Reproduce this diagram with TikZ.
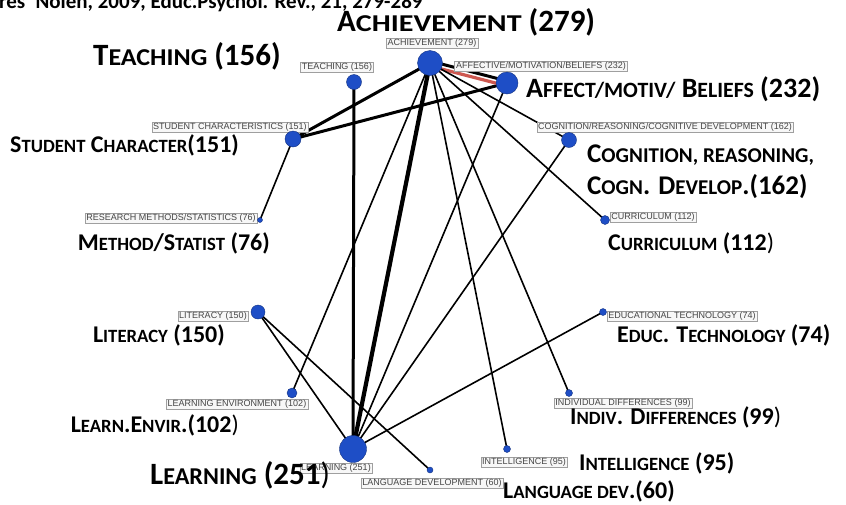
\documentclass[tikz,border=0pt]{standalone}
\usepackage{fontspec}
\usepackage{graphicx}
\setmainfont{Carlito}
\newfontfamily\tagfont{Liberation Sans}
\usetikzlibrary{backgrounds}
\definecolor{dotblue}{RGB}{30,78,198}
\definecolor{linkred}{RGB}{205,88,80}
% small capitals: optional horizontal scale
\newcommand{\sm}[2][0.78]{\scalebox{#1}[0.78]{#2}}

\begin{document}
\begin{tikzpicture}[x=1pt, y=-1pt,
    topic/.style={circle, draw=dotblue!65!black, fill=dotblue, inner sep=0pt, minimum size=#1},
    tag/.style={draw=gray!75, fill=gray!6, inner sep=1pt, inner xsep=1.5pt,
        font=\tagfont\fontsize{9}{10}\selectfont, text=gray!55!black},
    biglabel/.style={anchor=base west, inner sep=0pt, font=\fontsize{31}{33}\selectfont\bfseries},
    midlabel/.style={anchor=base west, inner sep=0pt, font=\fontsize{24}{26}\selectfont\bfseries},
    link/.style={line width=1.6pt},
    strong/.style={line width=3pt}]

    \useasboundingbox (0,0) rectangle (846,504);

    % reference line, cut at the top
    \node[anchor=base west, inner sep=0pt, font=\fontsize{21}{23}\selectfont\bfseries]
        (src) at (-1,8) {res' Nolen, 2009, Educ.Psychol. Rev., 21, 279-289};

    % small tags of the map
    \node[tag] (ach_tag)   at (432,43)  {ACHIEVEMENT (279)};
    \node[tag] (teach_tag) at (337,67)  {TEACHING (156)};
    \node[tag] (aff_tag)   at (541,66)  {AFFECTIVE/MOTIVATION/BELIEFS (232)};
    \node[tag] (stu_tag)   at (230,127) {STUDENT CHARACTERISTICS (151)};
    \node[tag] (cog_tag)   at (665,127) {COGNITION/REASONING/COGNITIVE DEVELOPMENT (162)};
    \node[tag] (meth_tag)  at (171,218) {RESEARCH METHODS/STATISTICS (76)};
    \node[tag] (cur_tag)   at (653,217) {CURRICULUM (112)};
    \node[tag] (lit_tag)   at (213,316) {LITERACY (150)};
    \node[tag] (edu_tag)   at (682,316) {EDUCATIONAL TECHNOLOGY (74)};
    \node[tag] (env_tag)   at (237,404) {LEARNING ENVIRONMENT (102)};
    \node[tag] (ind_tag)   at (623,403) {INDIVIDUAL DIFFERENCES (99)};
    \node[tag] (learn_tag) at (336,468) {LEARNING (251)};
    \node[tag] (int_tag)   at (524,462) {INTELLIGENCE (95)};
    \node[tag] (lang_tag)  at (432,483) {LANGUAGE DEVELOPMENT (60)};

    % topics
    \node[topic=25pt] (ach)   at (430,63)  {};
    \node[topic=22pt] (aff)   at (507,83)  {};
    \node[topic=15pt] (teach) at (354,82)  {};
    \node[topic=16pt] (stu)   at (293,139) {};
    \node[topic=15pt] (cog)   at (569,140) {};
    \node[topic=5pt]  (meth)  at (260,220) {};
    \node[topic=9pt]  (cur)   at (605,220) {};
    \node[topic=14pt] (lit)   at (258,312) {};
    \node[topic=7pt]  (edu)   at (603,312) {};
    \node[topic=10pt] (env)   at (292,393) {};
    \node[topic=7pt]  (ind)   at (569,393) {};
    \node[topic=27pt] (learn) at (353,449) {};
    \node[topic=7pt]  (int)   at (507,449) {};
    \node[topic=6pt]  (lang)  at (430,470) {};

    \begin{scope}[on background layer]
        \path[strong]
        (ach.center)   edge (stu.center)
        (aff.center)   edge (stu.center)
        (teach.center) edge (learn.center)
        ([yshift=2pt]ach.center) edge ([yshift=2pt]aff.center)
        ;
        \draw[line width=4.2pt] (ach.center) -- (learn.center);
        \draw[linkred, line width=3.2pt] ([yshift=-3pt]ach.center) -- ([yshift=-3pt]aff.center);

        \path[link]
        (stu.center) edge (meth.center)
        (ach.center) edge (cog.center)
        (ach.center) edge (cur.center)
        (ach.center) edge (ind.center)
        (ach.center) edge (int.center)
        (ach.center) edge (env.center)
        (aff.center) edge (learn.center)
        (cog.center) edge (learn.center)
        (lit.center) edge (learn.center)
        (lit.center) edge (lang.center)
        (edu.center) edge (learn.center)
        ;
    \end{scope}

    % large labels
    \node[biglabel] (ach_lbl)   at (337,31)  {A\sm[0.97]{CHIEVEMENT} (279)};
    \node[biglabel] (teach_lbl) at (93,65)   {T\sm[0.84]{EACHING} (156)};
    \node[biglabel, font=\fontsize{28}{30}\selectfont\bfseries]
                    (aff_lbl)   at (526,97)  {A\sm{FFECT/MOTIV/} B\sm{ELIEFS} (232)};
    \node[midlabel] (stu_lbl)   at (10,152)  {S\sm{TUDENT} C\sm{HARACTER}(151)};
    \node[midlabel, anchor=north west, align=left, font=\fontsize{27}{32}\selectfont\bfseries]
                    (cog_lbl)   at (587,145) {C\sm{OGNITION, REASONING,}\\C\sm{OGN}. D\sm{EVELOP}.(162)};
    \node[midlabel, anchor=base east] (meth_lbl) at (270,250) {M\sm{ETHOD}/S\sm{TATIST} (76)};
    \node[midlabel] (cur_lbl)   at (608,250) {C\sm{URRICULUM} (112\textmd{)}};
    \node[midlabel, anchor=base east] (lit_lbl) at (225,342) {L\sm{ITERACY} (150)};
    \node[midlabel] (edu_lbl)   at (617,342) {E\sm{DUC}. T\sm{ECHNOLOGY} (74)};
    \node[midlabel, anchor=base east] (env_lbl) at (239,432) {L\sm{EARN}.E\sm{NVIR}.(102\textmd{)}};
    \node[midlabel] (ind_lbl)   at (570,424) {I\sm{NDIV}. D\sm{IFFERENCES} (99\textmd{)}};
    \node[midlabel] (int_lbl)   at (579,470) {I\sm{NTELLIGENCE} (95)};
    \node[midlabel] (lang_lbl)  at (503,498) {L\sm{ANGUAGE DEV}.(60)};
    \node[biglabel] (learn_lbl) at (150,484) {L\sm{EARNING} (251\textmd{)}};
\end{tikzpicture}
\end{document}
